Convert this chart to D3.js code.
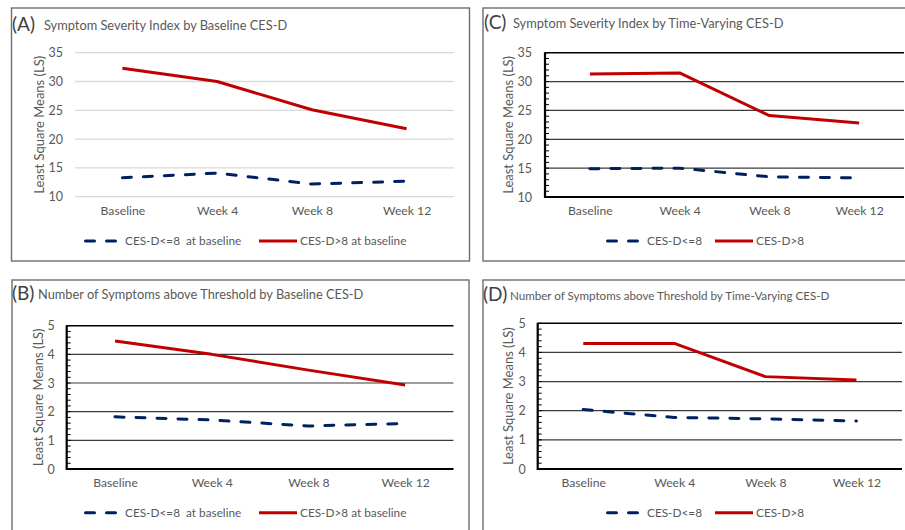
<!DOCTYPE html>
<html><head><meta charset="utf-8">
<script src="https://cdn.jsdelivr.net/npm/d3@7"></script>
<style>html,body{margin:0;padding:0;background:#fff;}svg{display:block;font-family:Lato,"Open Sans",sans-serif;}</style>
</head><body><svg id="c" width="905" height="530"></svg>
<script>
// ---- data ----
const categories = ["Baseline", "Week 4", "Week 8", "Week 12"];
const severityBaselineLow  = [13.3, 14.1, 12.2, 12.7];
const severityBaselineHigh = [32.3, 30.0, 25.1, 21.8];
const severityTVLow  = [14.9, 15.0, 13.5, 13.3];
const severityTVHigh = [31.3, 31.5, 24.1, 22.8];
const countBaselineLow  = [1.82, 1.71, 1.50, 1.59];
const countBaselineHigh = [4.47, 4.00, 3.45, 2.93];
const countTVLow  = [2.04, 1.77, 1.72, 1.65];
const countTVHigh = [4.31, 4.31, 3.17, 3.05];
const severityTicks = [10, 15, 20, 25, 30, 35];
const countTicks = [0, 1, 2, 3, 4, 5];
const panelLetters = ["(A)", "(C)", "(B)", "(D)"];
const panelTitles = [
  "Symptom Severity Index by Baseline CES-D",
  "Symptom Severity Index by Time-Varying CES-D",
  "Number of Symptoms above Threshold by Baseline CES-D",
  "Number of Symptoms above Threshold by Time-Varying CES-D"
];
const legendBaseline = ["CES-D<=8  at baseline", "CES-D>8 at baseline"];
const legendTV = ["CES-D<=8", "CES-D>8"];
const yAxisTitle = "Least Square Means (LS)";

// ---- layout / style ----
const svg = d3.select("#c");
const RED = "#c00000", BLUE = "#002060";

const panels = [
  {letter: panelLetters[0], title: panelTitles[0], low: severityBaselineLow, high: severityBaselineHigh, ticks: severityTicks, minorStep: null, legend: legendBaseline,
   box: {x: 11.5, y: 8, w: 458, h: 253}, plot: {l: 75, r: 454, t: 52.7, b: 196.7}, style: "light",
   titleY: 30, letterX: 12, titleX: 44, titleSize: 12.8, tickY: 217, legY: 241, legX: [84, 259], yLabX: 39, yPad: 12},
  {letter: panelLetters[1], title: panelTitles[1], low: severityTVLow, high: severityTVHigh, ticks: severityTicks, minorStep: 1, legend: legendTV,
   box: {x: 483, y: 8, w: 440, h: 253}, plot: {l: 545, r: 904, t: 52.7, b: 197}, style: "dark",
   titleY: 28, letterX: 484, titleX: 513, titleSize: 12.8, tickY: 217, legY: 241, legX: [606, 715], yLabX: 508, yPad: 13},
  {letter: panelLetters[2], title: panelTitles[2], low: countBaselineLow, high: countBaselineHigh, ticks: countTicks, minorStep: 0.2, legend: legendBaseline,
   box: {x: 12, y: 280, w: 457, h: 270}, plot: {l: 66.7, r: 453.5, t: 325.7, b: 469}, style: "dark",
   titleY: 299, letterX: 12, titleX: 38, titleSize: 12.8, tickY: 489, legY: 512.7, legX: [84, 259], yLabX: 38, yPad: 12},
  {letter: panelLetters[3], title: panelTitles[3], low: countTVLow, high: countTVHigh, ticks: countTicks, minorStep: 0.2, legend: legendTV,
   box: {x: 483, y: 280, w: 440, h: 270}, plot: {l: 537.7, r: 902, t: 323.3, b: 469}, style: "dark",
   titleY: 300, letterX: 483, titleX: 510, titleSize: 11.6, tickY: 489, legY: 512.7, legX: [606, 715], yLabX: 508, yPad: 12}
];

panels.forEach(p => {
  const g = svg.append("g");
  // outer frame
  g.append("rect").attr("x", p.box.x).attr("y", p.box.y).attr("width", p.box.w).attr("height", p.box.h)
    .attr("fill", "none").attr("stroke", "#6e6e6e").attr("stroke-width", 1.4);

  // title
  g.append("text").attr("x", p.letterX).attr("y", p.titleY + 1).attr("font-size", 19).attr("fill", "#404040").text(p.letter);
  g.append("text").attr("x", p.titleX).attr("y", p.titleY).attr("font-size", p.titleSize).attr("fill", "#595959").text(p.title);

  const x = d3.scalePoint().domain(categories).range([p.plot.l, p.plot.r]).padding(0.5);
  const y = d3.scaleLinear().domain(d3.extent(p.ticks)).range([p.plot.b, p.plot.t]);

  // gridlines
  const dark = p.style === "dark";
  const last = p.ticks[p.ticks.length - 1];
  g.append("g").selectAll("line").data(p.ticks).join("line")
    .attr("x1", p.plot.l).attr("x2", p.plot.r)
    .attr("y1", d => y(d)).attr("y2", d => y(d))
    .attr("stroke", d => dark ? (d === p.ticks[0] || d === last ? "#000" : "#3a3a3a") : "#d9d9d9")
    .attr("stroke-width", d => dark ? (d === p.ticks[0] ? 2.2 : (d === last ? 1.6 : 1.2)) : 1.3);

  if (dark) {
    // left axis with minor ticks
    g.append("line").attr("x1", p.plot.l).attr("x2", p.plot.l).attr("y1", p.plot.t - 0.5).attr("y2", p.plot.b + 1)
      .attr("stroke", "#000").attr("stroke-width", 2.2);
    const minors = d3.range(p.ticks[0], last + 1e-9, p.minorStep);
    g.append("g").selectAll("line").data(minors).join("line")
      .attr("x1", p.plot.l).attr("x2", p.plot.l + 4)
      .attr("y1", d => y(d)).attr("y2", d => y(d))
      .attr("stroke", "#000").attr("stroke-width", 1);
  }

  // y tick labels
  const yAxis = d3.axisLeft(y).tickValues(p.ticks).tickFormat(d3.format("d")).tickSize(0).tickPadding(p.yPad);
  const ya = g.append("g").attr("transform", `translate(${p.plot.l},0)`).call(yAxis);
  ya.select(".domain").remove();
  ya.selectAll("text").attr("font-size", 12.5).attr("fill", "#595959").attr("font-family", "Lato");

  // x tick labels
  const xAxis = d3.axisBottom(x).tickSize(0).tickPadding(0);
  const xa = g.append("g").attr("transform", `translate(0,${p.tickY - 10.5})`).call(xAxis);
  xa.select(".domain").remove();
  xa.selectAll("text").attr("font-size", 12.2).attr("fill", "#595959").attr("font-family", "Lato");

  // y axis title
  g.append("text").attr("transform", `translate(${p.yLabX + 4.5},${(p.plot.t + p.plot.b) / 2}) rotate(-90)`)
    .attr("text-anchor", "middle").attr("font-size", 13).attr("fill", "#595959").text(yAxisTitle);

  // lines
  const line = d3.line().x((d, i) => x(categories[i])).y(d => y(d));
  g.append("path").datum(p.low).attr("d", line).attr("fill", "none").attr("stroke", BLUE)
    .attr("stroke-width", 3).attr("stroke-dasharray", "9,12").attr("stroke-linecap", "round");
  g.append("path").datum(p.high).attr("d", line).attr("fill", "none").attr("stroke", RED)
    .attr("stroke-width", 3).attr("stroke-linejoin", "round");

  // legend
  const lg = g.append("g");
  lg.append("line").attr("x1", p.legX[0] + 1.5).attr("x2", p.legX[0] + 33).attr("y1", p.legY).attr("y2", p.legY)
    .attr("stroke", BLUE).attr("stroke-width", 3).attr("stroke-dasharray", "9,12").attr("stroke-linecap", "round");
  lg.append("text").attr("x", p.legX[0] + 41).attr("y", p.legY + 4).attr("font-size", 11.8).attr("fill", "#595959")
    .style("white-space", "pre").text(p.legend[0]);
  lg.append("line").attr("x1", p.legX[1]).attr("x2", p.legX[1] + 38).attr("y1", p.legY).attr("y2", p.legY)
    .attr("stroke", RED).attr("stroke-width", 3);
  lg.append("text").attr("x", p.legX[1] + 41).attr("y", p.legY + 4).attr("font-size", 11.8).attr("fill", "#595959")
    .text(p.legend[1]);
});
</script>
</body></html>
